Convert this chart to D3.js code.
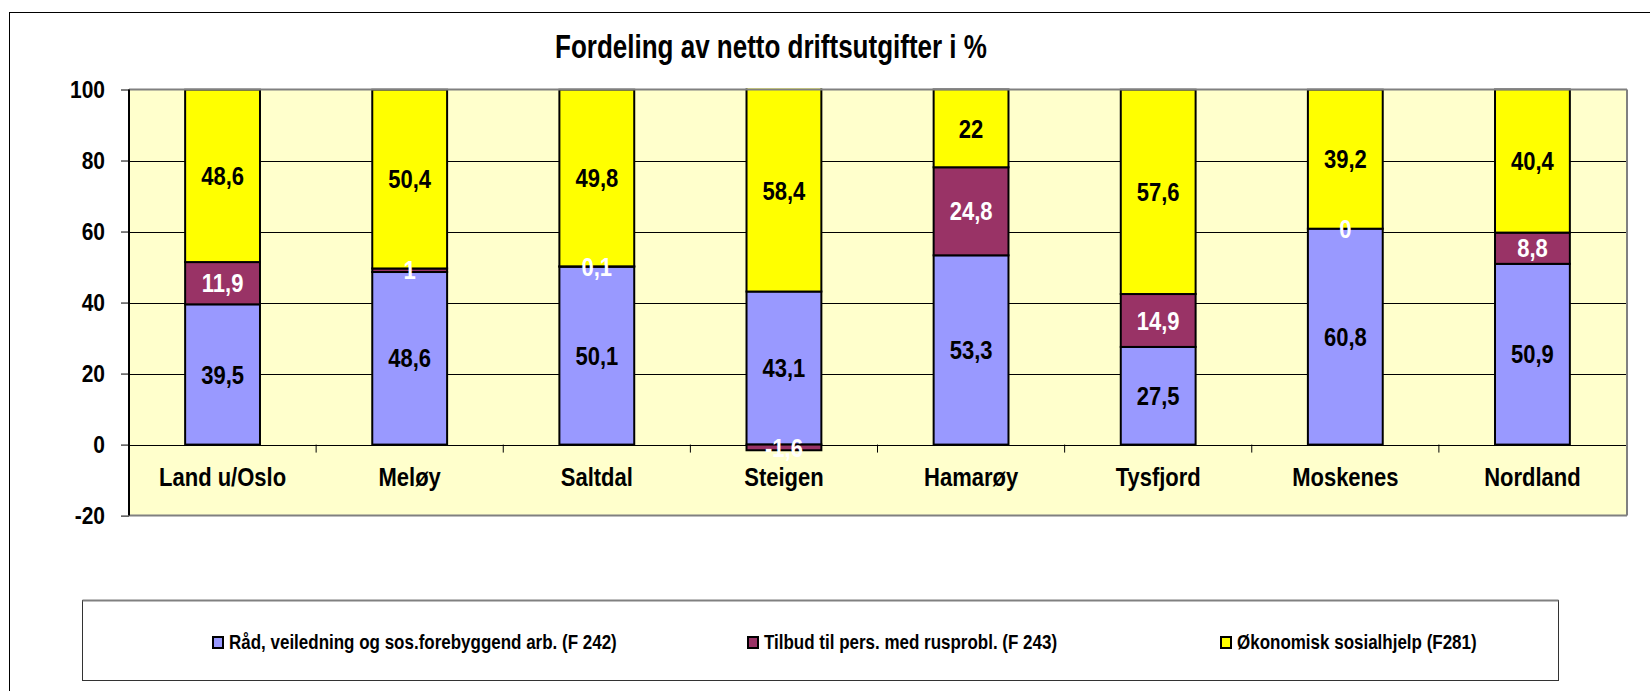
<!DOCTYPE html>
<html>
<head>
<meta charset="utf-8">
<script src="https://cdn.jsdelivr.net/npm/d3@7"></script>
<style>
  body { margin: 0; background: #fff; }
  text { font-family: "Liberation Sans", Arial, sans-serif; font-weight: bold; }
</style>
</head>
<body>
<div id="main"></div>
<script>
var width = 1650,
    height = 691;

// data
var categories = ["Land u/Oslo", "Meløy", "Saltdal", "Steigen", "Hamarøy", "Tysfjord", "Moskenes", "Nordland"];
var seriesNames = ["Råd, veiledning og sos.forebyggend arb. (F 242)", "Tilbud til pers. med rusprobl. (F 243)", "Økonomisk sosialhjelp (F281)"];
var raad = [39.5, 48.6, 50.1, 43.1, 53.3, 27.5, 60.8, 50.9];
var tilbud = [11.9, 1, 0.1, -1.6, 24.8, 14.9, 0, 8.8];
var okonomisk = [48.6, 50.4, 49.8, 58.4, 22, 57.6, 39.2, 40.4];
var yTicks = [-20, 0, 20, 40, 60, 80, 100];
var colors = ["#9999ff", "#993366", "#ffff00"];
var labelColors = ["#000", "#fff", "#000"];
var title = "Fordeling av netto driftsutgifter i %";

var SY = 1.15; // text looks vertically stretched in the original

var svg = d3.select("#main").append("svg")
    .attr("width", width)
    .attr("height", height);

// outer chart border (cropped on right/bottom)
svg.append("rect")
    .attr("x", 9.5).attr("y", 12.5)
    .attr("width", 2000).attr("height", 2000)
    .attr("fill", "#fff")
    .attr("stroke", "#000");

function label(parent, x, y, str, size, anchor, fill, sy) {
  parent.append("g")
    .attr("transform", "translate(" + x + "," + y + ") scale(1," + (sy || SY) + ")")
    .append("text")
      .attr("text-anchor", anchor)
      .attr("dy", "0.36em")
      .attr("font-size", size)
      .attr("fill", fill)
      .text(str);
}

var plotLeft = 129, plotRight = 1626;

var x = d3.scaleBand()
    .domain(categories)
    .range([plotLeft, plotRight])
    .paddingInner(0.6)
    .paddingOuter(0.3);

var y = d3.scaleLinear()
    .domain([-20, 100])
    .range([515.6, 89.5]);

// plot background
svg.append("rect")
    .attr("x", plotLeft).attr("y", y(100))
    .attr("width", plotRight - plotLeft)
    .attr("height", y(-20) - y(100))
    .attr("fill", "#ffffcc");

// gridlines
svg.append("g").selectAll("line")
    .data(yTicks.filter(function(d) { return d > -20 && d < 100; }))
    .enter().append("line")
    .attr("x1", plotLeft).attr("x2", plotRight)
    .attr("y1", function(d) { return Math.round(y(d)) + 0.5; })
    .attr("y2", function(d) { return Math.round(y(d)) + 0.5; })
    .attr("stroke", "#000").attr("stroke-width", 1);

// stacked data
var table = categories.map(function(c, i) {
  return { cat: c, s0: raad[i], s1: tilbud[i], s2: okonomisk[i] };
});
var keys = ["s0", "s1", "s2"];
var stack = d3.stack().keys(keys).offset(d3.stackOffsetDiverging);
var layers = stack(table);

svg.append("clipPath").attr("id", "plotclip")
  .append("rect")
    .attr("x", plotLeft).attr("y", y(100) - 1)
    .attr("width", plotRight - plotLeft).attr("height", y(-20) - y(100) + 1);

var bars = svg.append("g").attr("clip-path", "url(#plotclip)");

layers.forEach(function(layer, li) {
  bars.append("g").selectAll("rect")
    .data(layer.filter(function(d) { return d[1] !== d[0]; }))
    .enter().append("rect")
    .attr("x", function(d) { return x(d.data.cat); })
    .attr("width", x.bandwidth())
    .attr("y", function(d) { return y(d[1]); })
    .attr("height", function(d) { return Math.max(0, y(d[0]) - y(d[1])); })
    .attr("fill", colors[li])
    .attr("stroke", "#000")
    .attr("stroke-width", 2);
});

// plot border: top/right gray, left axis black, bottom gray
svg.append("line")
    .attr("x1", plotLeft).attr("x2", plotRight + 1)
    .attr("y1", y(100)).attr("y2", y(100))
    .attr("stroke", "#808080").attr("stroke-width", 2);
svg.append("line")
    .attr("x1", plotRight + 1).attr("x2", plotRight + 1)
    .attr("y1", y(100)).attr("y2", y(-20))
    .attr("stroke", "#808080").attr("stroke-width", 2);
svg.append("line")
    .attr("x1", plotLeft).attr("x2", plotRight + 1)
    .attr("y1", y(-20)).attr("y2", y(-20))
    .attr("stroke", "#808080").attr("stroke-width", 2);

// y axis
var yAxis = d3.axisLeft(y)
    .tickValues(yTicks)
    .tickSize(8)
    .tickFormat("");
var ya = svg.append("g")
    .attr("transform", "translate(" + plotLeft + ",0)")
    .call(yAxis);
ya.select(".domain").attr("stroke", "#000").attr("stroke-width", 2).attr("d", "M0," + y(100) + "V" + y(-20));
ya.selectAll(".tick line").attr("stroke", "#000");

yTicks.forEach(function(t) {
  label(svg, 105, y(t), t, 21, "end", "#000");
});

// x category ticks at zero line
var boundaries = d3.range(1, categories.length).map(function(i) {
  return x(categories[i]) - x.step() * x.paddingInner() / 2;
});
svg.append("g").selectAll("line")
    .data(boundaries)
    .enter().append("line")
    .attr("x1", function(d) { return d; }).attr("x2", function(d) { return d; })
    .attr("y1", y(0)).attr("y2", y(0) + 8)
    .attr("stroke", "#000");

// category labels
categories.forEach(function(c) {
  label(svg, x(c) + x.bandwidth() / 2, 477, c, 22, "middle", "#000");
});

// data labels
layers.forEach(function(layer, li) {
  layer.forEach(function(d, i) {
    var v = table[i][keys[li]];
    var mid;
    if (v === 0) {
      // zero segment sits on top of the previous positive segment
      mid = layers[li - 1][i][1];
    } else {
      mid = (d[0] + Math.min(d[1], 100)) / 2;
    }
    label(svg, x(d.data.cat) + x.bandwidth() / 2, y(mid), String(v).replace(".", ","), 22, "middle", labelColors[li]);
  });
});

// title
label(svg, 771, 46, title, 26, "middle", "#000", 1.28);

// legend
var legend = svg.append("g");
legend.append("rect")
    .attr("x", 82.5).attr("y", 600.5)
    .attr("width", 1476).attr("height", 80)
    .attr("fill", "#fff")
    .attr("stroke", "#333");
legend.append("line")
    .attr("x1", 82.5).attr("x2", 1558.5)
    .attr("y1", 600.5).attr("y2", 600.5)
    .attr("stroke", "#808080").attr("stroke-width", 2);

var legendX = [213, 748, 1221];
seriesNames.forEach(function(name, i) {
  legend.append("rect")
    .attr("x", legendX[i]).attr("y", 637)
    .attr("width", 10).attr("height", 11)
    .attr("fill", colors[i])
    .attr("stroke", "#000").attr("stroke-width", 2);
  label(legend, legendX[i] + 16, 642, name, 17, "start", "#000");
});
</script>
</body>
</html>
